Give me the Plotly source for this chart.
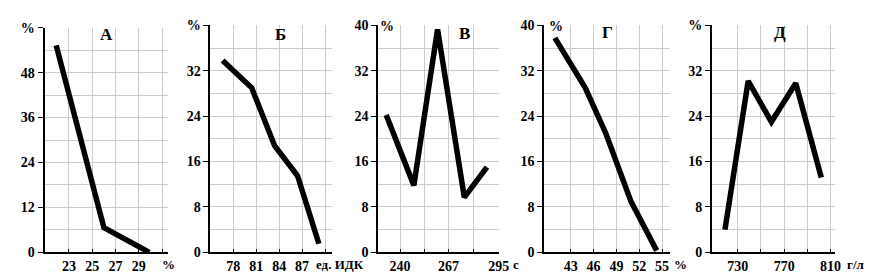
import plotly.graph_objects as go

W, H = 879, 275

# ---- data ----
a_x = [21.9, 26.0, 29.9]
a_y = [55.3, 6.6, 0.0]

b_x = [76.6, 80.4, 83.4, 86.4, 89.2]
b_y = [33.8, 29.0, 18.8, 13.5, 1.5]

v_x = [232.3, 247.7, 260.9, 275.8, 288.4]
v_y = [24.2, 11.8, 39.3, 9.7, 15.0]

g_x = [40.9, 44.9, 47.6, 50.9, 54.3]
g_y = [37.8, 29.0, 21.0, 9.0, 0.3]

d_x = [719, 739, 759, 780, 802]
d_y = [4.0, 30.2, 23.0, 29.8, 13.2]

titles = ["А", "Б", "В", "Г", "Д"]

a_xticks = [23, 25, 27, 29, 31]
a_xtext = ["23", "25", "27", "29", ""]
a_yticks = [0, 12, 24, 36, 48, 60]
a_ytext = ["0", "12", "24", "36", "48", "%"]

b_xticks = [78, 81, 84, 87, 90]
b_xtext = ["78", "81", "84", "87", ""]
y40_ticks = [0, 8, 16, 24, 32, 40]
y40_pct = ["0", "8", "16", "24", "32", "%"]
y40_num = ["0", "8", "16", "24", "32", "40"]

v_xticks = [240, 253.5, 267, 281, 295]
v_xtext = ["240", "", "267", "", "295"]

g_xticks = [43, 46, 49, 52, 55]
g_xtext = ["43", "46", "49", "52", "55"]

d_xticks = [730, 750, 770, 790, 810]
d_xtext = ["730", "", "770", "", "810"]

units = ["%", "ед. ИДК", "с", "%", "г/л"]

# ---- layout geometry (pixels) ----
panels = [
    dict(x=a_x, y=a_y, px=(37, 162), xr=(20.9, 31.5), yr=(0, 60), ytop=13.5,
         xt=a_xticks, xtt=a_xtext, yt=a_yticks, ytt=a_ytext, ydt=6,
         title_px=(100, 21), unit_px=(163, 264), pct=None),
    dict(x=b_x, y=b_y, px=(205, 328), xr=(75.0, 90.9), yr=(0, 40), ytop=11,
         xt=b_xticks, xtt=b_xtext, yt=y40_ticks, ytt=y40_pct, ydt=4,
         title_px=(276, 21), unit_px=(336, 264), pct=None),
    dict(x=v_x, y=v_y, px=(375, 497), xr=(227.9, 295.0), yr=(0, 40), ytop=11,
         xt=v_xticks, xtt=v_xtext, yt=y40_ticks, ytt=y40_num, ydt=4,
         title_px=(462, 20), unit_px=(514, 264), pct=(384, 12)),
    dict(x=g_x, y=g_y, px=(543, 670), xr=(39.5, 56.0), yr=(0, 40), ytop=11,
         xt=g_xticks, xtt=g_xtext, yt=y40_ticks, ytt=y40_num, ydt=4,
         title_px=(607, 18), unit_px=(681, 264), pct=(555, 12)),
    dict(x=d_x, y=d_y, px=(713, 837), xr=(707.9, 813.4), yr=(0, 40), ytop=11,
         xt=d_xticks, xtt=d_xtext, yt=y40_ticks, ytt=y40_pct, ydt=4,
         title_px=(782, 18), unit_px=(858, 264), pct=None),
]

font_fam = "Liberation Serif, Times New Roman, serif"
tickfont = dict(family=font_fam, size=14, color="black", weight="bold")
unitfont = dict(family=font_fam, size=13, color="black", weight="bold")
grid = "#cccccc"
base_px = 251

fig = go.Figure()
annotations = []
layout = {}
for i, p in enumerate(panels, start=1):
    xa = "x" if i == 1 else f"x{i}"
    ya = "y" if i == 1 else f"y{i}"
    fig.add_trace(go.Scatter(x=p["x"], y=p["y"], mode="lines",
                             line=dict(color="black", width=5.5),
                             xaxis=xa, yaxis=ya, showlegend=False,
                             hoverinfo="skip"))
    xkey = "xaxis" if i == 1 else f"xaxis{i}"
    ykey = "yaxis" if i == 1 else f"yaxis{i}"
    layout[xkey] = dict(
        domain=[p["px"][0] / W, p["px"][1] / W], range=list(p["xr"]),
        anchor=ya, tickvals=p["xt"], ticktext=p["xtt"], tickfont=tickfont,
        showline=True, linecolor="black", linewidth=2,
        ticks="inside", ticklen=3, tickcolor="black", tickwidth=1,
        showgrid=True, gridcolor=grid, gridwidth=1, zeroline=False,
        fixedrange=True,
    )
    layout[ykey] = dict(
        domain=[(H - base_px) / H, (H - p["ytop"]) / H], range=list(p["yr"]),
        anchor=xa, tickvals=p["yt"], ticktext=p["ytt"], tickfont=tickfont,
        showline=True, linecolor="black", linewidth=2,
        ticks="outside", ticklen=5, tickcolor="black", tickwidth=1,
        showgrid=True, gridcolor=grid, gridwidth=1, zeroline=False,
        minor=dict(dtick=p["ydt"], tick0=0, showgrid=True, gridcolor=grid,
                   gridwidth=1, ticks=""),
        fixedrange=True,
    )
    tx, ty = p["title_px"]
    annotations.append(dict(text=titles[i - 1], x=tx / W, y=(H - ty) / H,
                            xref="paper", yref="paper", showarrow=False,
                            xanchor="center", yanchor="middle",
                            font=dict(family=font_fam, size=17, color="black",
                                      weight="bold")))
    ux, uy = p["unit_px"]
    annotations.append(dict(text=units[i - 1], x=ux / W, y=(H - uy) / H,
                            xref="paper", yref="paper", showarrow=False,
                            xanchor="center", yanchor="middle",
                            font=unitfont))
    if p["pct"]:
        qx, qy = p["pct"]
        annotations.append(dict(text="%", x=qx / W, y=(H - qy) / H,
                                xref="paper", yref="paper", showarrow=False,
                                xanchor="center", yanchor="middle",
                                font=tickfont))

fig.update_layout(
    width=W, height=H, margin=dict(l=0, r=0, t=0, b=0),
    paper_bgcolor="white", plot_bgcolor="white",
    annotations=annotations, **layout,
)

fig.write_html("out.html")
